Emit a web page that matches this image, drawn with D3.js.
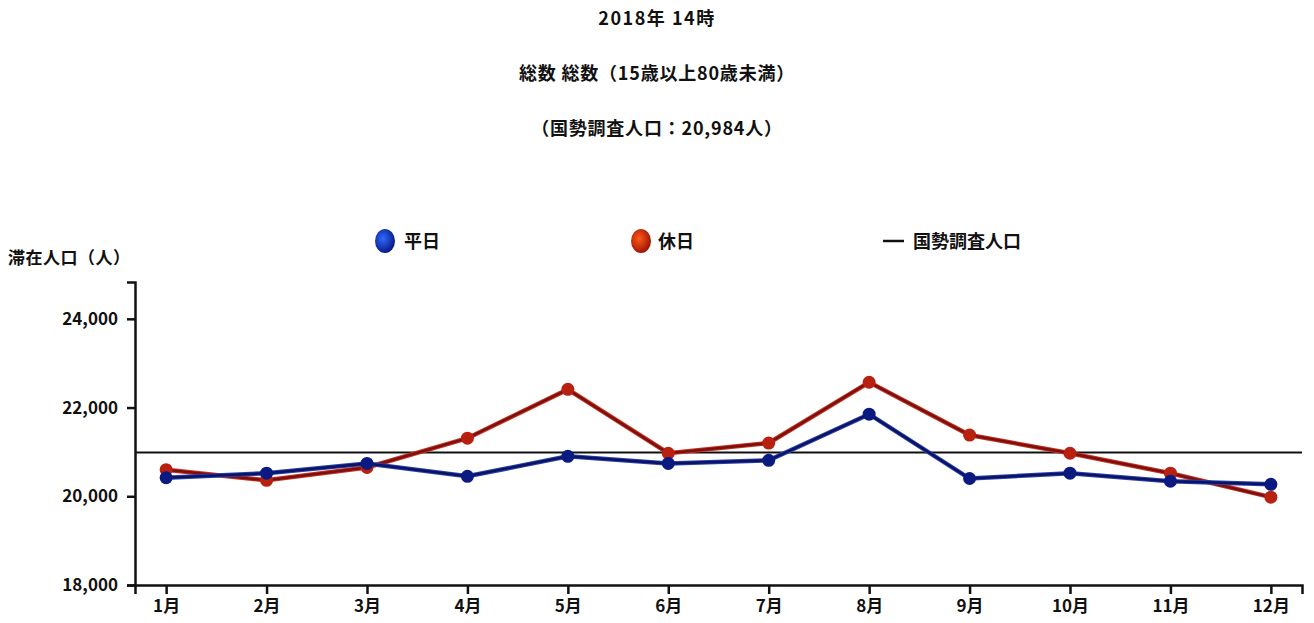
<!DOCTYPE html>
<html><head><meta charset="utf-8">
<script src="https://cdn.jsdelivr.net/npm/d3@7/dist/d3.min.js"></script>
<style>
body{margin:0;background:#fff;}
svg text{font-family:"Noto Sans CJK JP","Noto Sans",sans-serif;fill:#111;}
</style></head>
<body><svg id="c" width="1314" height="623"></svg>
<script>
const months = ["1月","2月","3月","4月","5月","6月","7月","8月","9月","10月","11月","12月"];
const weekday = [20420,20520,20740,20450,20900,20740,20810,21850,20400,20520,20340,20270];
const holiday = [20600,20360,20650,21310,22410,20970,21200,22570,21380,20970,20520,19980];
const censusPop = 20984;
const yTicks = [18000,20000,22000,24000];
const titles = ["2018年 14時","総数 総数（15歳以上80歳未満）","（国勢調査人口：20,984人）"];
const legendLabels = ["平日","休日","国勢調査人口"];

const svg = d3.select("#c");
const L=135, R=1302, T=282, B=585;
const x = d3.scalePoint().domain(months).range([L,R]).padding(0.31);
const y = d3.scaleLinear().domain([18000,24830]).range([B,T]);

// titles
const ty=[25,80,135];
titles.forEach((t,i)=>svg.append("text").attr("x",657).attr("y",ty[i]).attr("text-anchor","middle")
  .attr("font-size",18).attr("font-weight","bold").attr("letter-spacing",i==0?1.5:0.8).text(t));

// y label
svg.append("text").attr("x",8).attr("y",264).attr("font-size",17).attr("font-weight","bold").attr("letter-spacing",0.5).text("滞在人口（人）");

// axes
const yAx = svg.append("g").attr("transform",`translate(${L},0)`)
  .call(d3.axisLeft(y).tickValues(yTicks).tickFormat(d3.format(",")).tickSize(8).tickSizeOuter(8).tickPadding(9));
const xAx = svg.append("g").attr("transform",`translate(0,${B})`)
  .call(d3.axisBottom(x).tickSize(9).tickSizeOuter(9).tickPadding(6));
[yAx,xAx].forEach(g=>{
  g.selectAll("path,line").attr("stroke","#111").attr("stroke-width",2.5);
  g.selectAll("text").attr("font-size",17).attr("font-weight","bold").attr("fill","#111")
   .attr("font-family",'"Noto Sans CJK JP",sans-serif');
});

// reference line
svg.append("line").attr("x1",L).attr("x2",R).attr("y1",y(censusPop)).attr("y2",y(censusPop))
  .attr("stroke","#111").attr("stroke-width",2);

const line = d3.line().x((d,i)=>x(months[i])).y(d=>y(d));
function series(vals, lc, lc2, mc){
  svg.append("path").datum(vals).attr("d",line).attr("fill","none").attr("stroke",lc2).attr("stroke-width",4.5);
  svg.append("path").datum(vals).attr("d",line).attr("fill","none").attr("stroke",lc).attr("stroke-width",2.5);
  svg.append("g").selectAll("circle").data(vals).join("circle")
    .attr("cx",(d,i)=>x(months[i])).attr("cy",d=>y(d)).attr("r",6.5).attr("fill",mc);
}
series(holiday,"#7a1010","#c8301c","#b8200f");
series(weekday,"#0a1460","#2a3fb0","#0b1a80");

// legend
const defs = svg.append("defs");
function grad(id,c1,c2){
  const g=defs.append("radialGradient").attr("id",id).attr("cx","40%").attr("cy","40%").attr("r","60%");
  g.append("stop").attr("offset","0%").attr("stop-color",c1);
  g.append("stop").attr("offset","100%").attr("stop-color",c2);
}
grad("gb","#2f6bff","#0a1a8a");
grad("gr","#ff5a1a","#a01505");
const ly=241;
svg.append("ellipse").attr("cx",385).attr("cy",ly).attr("rx",10).attr("ry",12).attr("fill","url(#gb)");
svg.append("text").attr("x",404).attr("y",ly+7).attr("font-size",18).attr("font-weight","bold").text(legendLabels[0]);
svg.append("ellipse").attr("cx",641).attr("cy",ly).attr("rx",10).attr("ry",12).attr("fill","url(#gr)");
svg.append("text").attr("x",658).attr("y",ly+7).attr("font-size",18).attr("font-weight","bold").text(legendLabels[1]);
svg.append("line").attr("x1",883).attr("x2",904).attr("y1",ly).attr("y2",ly).attr("stroke","#111").attr("stroke-width",2.5);
svg.append("text").attr("x",913).attr("y",ly+7).attr("font-size",18).attr("font-weight","bold").text(legendLabels[2]);
</script></body></html>
